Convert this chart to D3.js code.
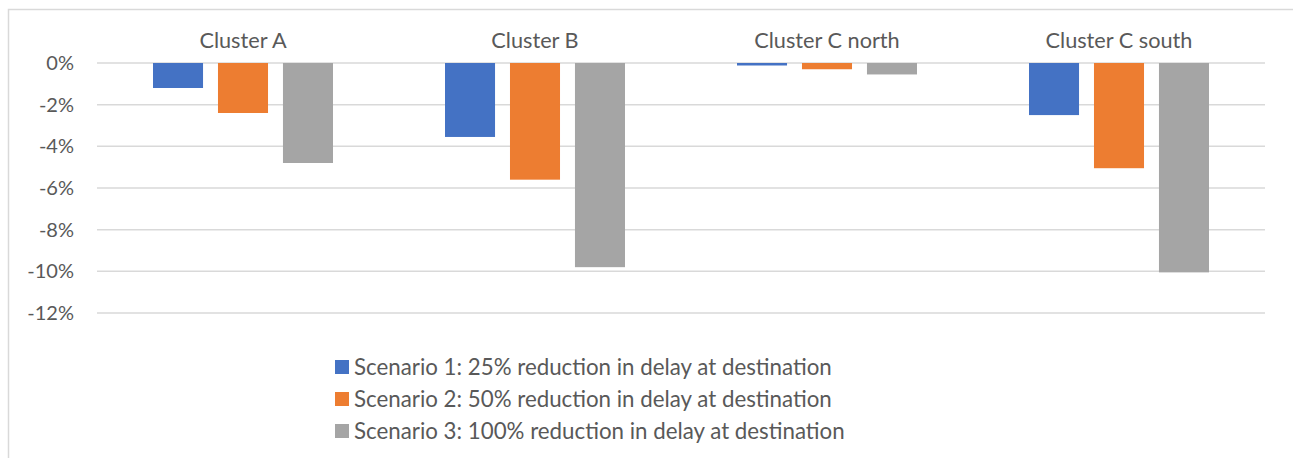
<!DOCTYPE html>
<html><head><meta charset="utf-8">
<script src="https://cdn.jsdelivr.net/npm/d3@7"></script>
<style>body{margin:0;background:#fff}svg{display:block}</style>
</head><body>
<script>
const categories = ["Cluster A", "Cluster B", "Cluster C north", "Cluster C south"];
const seriesNames = [
  "Scenario 1: 25% reduction in delay at destination",
  "Scenario 2: 50% reduction in delay at destination",
  "Scenario 3: 100% reduction in delay at destination"
];
const scenario1 = [-1.2, -3.55, -0.12, -2.5];
const scenario2 = [-2.4, -5.6, -0.3, -5.05];
const scenario3 = [-4.8, -9.8, -0.55, -10.05];
const yTicks = [0, -2, -4, -6, -8, -10, -12];
const colors = ["#4472C4", "#ED7D31", "#A5A5A5"];

(function () {
const W = 1293, H = 458;
const font = "Lato, sans-serif";
const textColor = "#595959";
const svg = d3.select("body").append("svg").attr("width", W).attr("height", H);

// chart border
svg.append("rect").attr("x", 8.5).attr("y", 9.5).attr("width", 1300).attr("height", 470)
  .attr("fill", "none").attr("stroke", "#d9d9d9").attr("stroke-width", 1.5);

const pl = 97, pr = 1265, pt = 63, pb = 313;
const y = d3.scaleLinear().domain([0, -12]).range([pt, pb]);
const x0 = d3.scaleBand().domain(categories).range([pl, pr]).paddingInner(0).paddingOuter(0);
const x1 = d3.scaleBand().domain([0, 1, 2]).range([0, 180]).paddingInner(0.23);
const groupOffset = (x0.bandwidth() - 180) / 2;

// gridlines
svg.append("g").selectAll("line").data(yTicks).join("line")
  .attr("x1", pl).attr("x2", pr)
  .attr("y1", d => y(d)).attr("y2", d => y(d))
  .attr("stroke", "#d9d9d9").attr("stroke-width", 1.5);

// y axis labels
const yAxis = d3.axisLeft(y).tickValues(yTicks).tickFormat(d => d + "%").tickSize(0).tickPadding(0);
const ya = svg.append("g").attr("transform", `translate(${pl - 23},0)`).call(yAxis);
ya.select(".domain").remove();
ya.selectAll("text").attr("font-family", font).attr("font-size", 20).attr("fill", textColor);

// category labels on top
const xAxis = d3.axisTop(x0).tickSize(0).tickPadding(0);
const xa = svg.append("g").attr("transform", `translate(0,${47.5})`).call(xAxis);
xa.select(".domain").remove();
xa.selectAll("text").attr("font-family", font).attr("font-size", 21.7).attr("fill", textColor)
  .attr("dy", 0);

// bars
const series = [scenario1, scenario2, scenario3];
series.forEach((vals, si) => {
  svg.append("g").selectAll("rect").data(vals).join("rect")
    .attr("x", (d, i) => x0(categories[i]) + groupOffset + x1(si))
    .attr("width", x1.bandwidth())
    .attr("y", y(0))
    .attr("height", d => y(d) - y(0))
    .attr("fill", colors[si]);
});

// legend
const lg = svg.append("g").attr("transform", "translate(335,0)");
const rowY = [367, 399, 431];
seriesNames.forEach((n, i) => {
  lg.append("rect").attr("x", 0).attr("y", rowY[i] - 7).attr("width", 14).attr("height", 14).attr("fill", colors[i]);
  lg.append("text").attr("x", 19).attr("y", rowY[i]).attr("dy", "0.35em")
    .attr("font-family", font).attr("font-size", 22.3).attr("fill", textColor).text(n);
});
})();
</script>
</body></html>
